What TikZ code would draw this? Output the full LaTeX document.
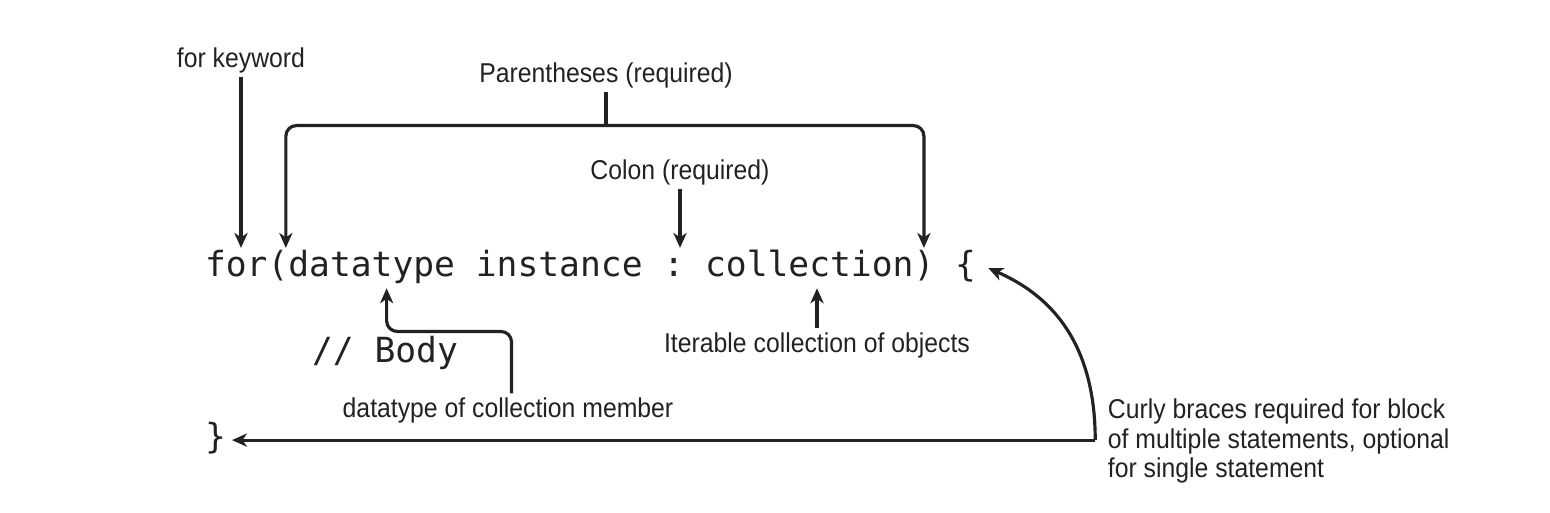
\documentclass[tikz,border=0pt]{standalone}
\usepackage{fontspec}
\setmainfont{Liberation Sans}
\newfontfamily\notefont[FakeStretch=0.91]{Liberation Sans}
\newfontfamily\codefont{DejaVu Sans Mono}
\usetikzlibrary{arrows.meta,positioning}
\definecolor{ink}{HTML}{222222}
\tikzset{
    note/.style={font=\notefont\fontsize{15.5}{17}\selectfont, text=ink, inner sep=2pt, align=left},
    code/.style={font=\codefont\fontsize{19.7}{22}\selectfont, text=ink, inner sep=0pt, outer sep=0pt, text height=16pt, text depth=7pt},
    dedge/.style={->,> = {Stealth[length=8.5pt,width=7.5pt,inset=2.5pt]}, draw=ink, line width=1.8pt},
    bedge/.style={<->,> = {Stealth[length=8.5pt,width=7.5pt,inset=2.5pt]}, draw=ink, line width=1.8pt, rounded corners=6pt},
    edge/.style={-, draw=ink, line width=1.8pt},
}

\begin{document}
\begin{tikzpicture}[x=0.02cm, y=-0.02cm, node distance=0pt]
\useasboundingbox (0,0) rectangle (1550,512);
% code lines
\node[code, anchor=base west] (kw) at (205,276) {for};
\node[code, right=of kw] (lpar) {(};
\node[code, right=of lpar] (dtype) {datatype};
\node[code, right=of dtype] (inst) {\ instance};
\node[code, right=of inst] (colon) {\ :\mbox{\ }};
\node[code, right=of colon] (coll) {collection};
\node[code, right=of coll] (rpar) {)};
\node[code, right=of rpar] (lbrace) {\ \{};
\node[code, anchor=base west] (body) at (312,362) {//\ Body};
\node[code, anchor=base west] (rbrace) at (205,448) {\}};
% notes
\node[note] (kwnote) at (241,60) {for keyword};
\node[note] (paren) at (606,75) {Parentheses (required)};
\node[note] (colnote) at (680,172) {Colon (required)};
\node[note] (iternote) at (817,345) {Iterable collection of objects};
\node[note] (dnote) at (508,410) {datatype of collection member};
\node[note, anchor=west] (curly) at (1104,441) {Curly braces required for block\\of multiple statements, optional\\for single statement};
% arrows
\draw[dedge] (kwnote.south) -- (kwnote.south |- kw.north);
\draw[edge] (paren.south) -- ++(0,34) coordinate (ptop);
\draw[bedge] ([xshift=4.5pt]lpar.north) |- (ptop) -| (rpar.north);
\draw[dedge] (colnote.south) -- (colnote.south |- colon.north);
\draw[dedge] (iternote.north) -- (iternote.north |- coll.south);
\draw[dedge, rounded corners=6pt] ([xshift=2pt]dnote.north) -- ++(0,-62) -| ([xshift=8.5pt]dtype.south);
\path ([xshift=-5pt]curly.west) coordinate (cx);
\coordinate (cjoin) at (cx |- rbrace.east);
\coordinate (rtip) at ([xshift=3.5pt]rbrace.east);
\draw[dedge] (cjoin) -- (rtip);
\draw[dedge] (cjoin) .. controls +(0,-110) and +(50,22) .. ([xshift=7pt]lbrace.east);
\end{tikzpicture}
\end{document}
